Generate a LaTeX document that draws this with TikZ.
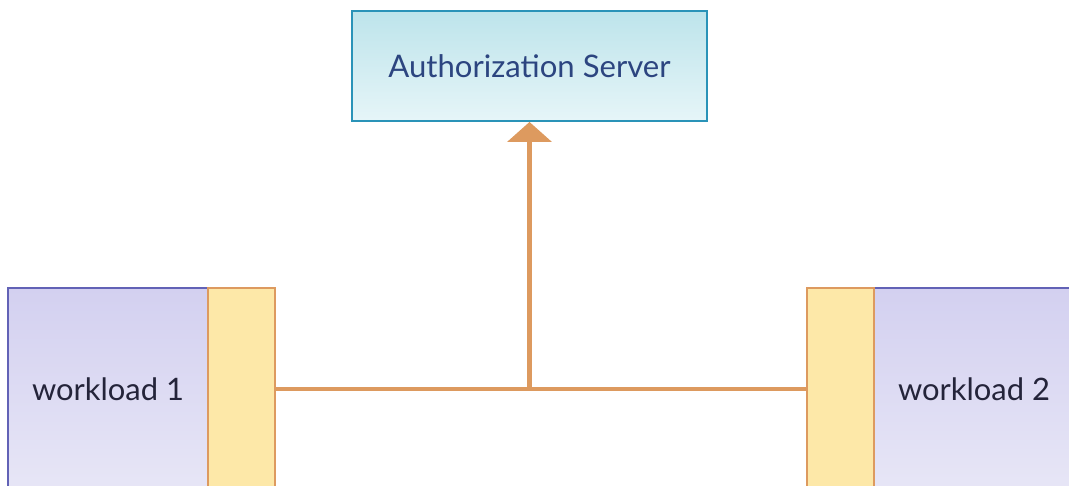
\documentclass[tikz,border=0pt]{standalone}
\usepackage{fontspec}
\setmainfont{Lato}
\usepackage{tikz}
\usetikzlibrary{positioning,arrows.meta}
\definecolor{srvtop}{HTML}{BDE4EB}
\definecolor{srvbot}{HTML}{E6F5F8}
\definecolor{srvline}{HTML}{2A93B8}
\definecolor{srvtext}{HTML}{2C4580}
\definecolor{wltop}{HTML}{D3D0F0}
\definecolor{wlbot}{HTML}{E7E6F6}
\definecolor{wlline}{HTML}{6262B6}
\definecolor{wltext}{HTML}{24243A}
\definecolor{portfill}{HTML}{FDE8A8}
\definecolor{link}{HTML}{DD9A5F}

\begin{document}
\begin{tikzpicture}[x=0.02cm, y=-0.02cm, node distance=-1.05pt,
  server/.style={draw=srvline, line width=1.1pt, top color=srvtop, bottom color=srvbot,
    minimum width=7.1cm, minimum height=2.2cm, text=srvtext, font=\fontsize{17.7}{21}\selectfont},
  workload/.style={draw=wlline, line width=1pt, top color=wltop, bottom color=wlbot,
    minimum width=4cm, minimum height=4.04cm, text=wltext, font=\fontsize{17.6}{21}\selectfont},
  port/.style={draw=link, line width=1.1pt, fill=portfill, minimum width=1.34cm, minimum height=4.04cm},
  wire/.style={draw=link, line width=2.3pt}]
\useasboundingbox (0,0) rectangle (1069,486);
\clip (0,0) rectangle (1069,486);
\node[server] (auth) at (529.5,66) {Authorization Server};
\node[workload] (wl1) at (108,389) {workload 1};
\node[port, right=of wl1] (p1) {};
\node[workload] (wl2) at (974,389) {workload 2};
\node[port, left=of wl2] (p2) {};
\coordinate (join) at (auth.south |- p1.east);
\draw[wire] (p1.east) -- (p2.west);
\draw[wire, -{Triangle[width=0.88cm, length=0.4cm]}] (join) -- (auth.south);
\end{tikzpicture}
\end{document}
